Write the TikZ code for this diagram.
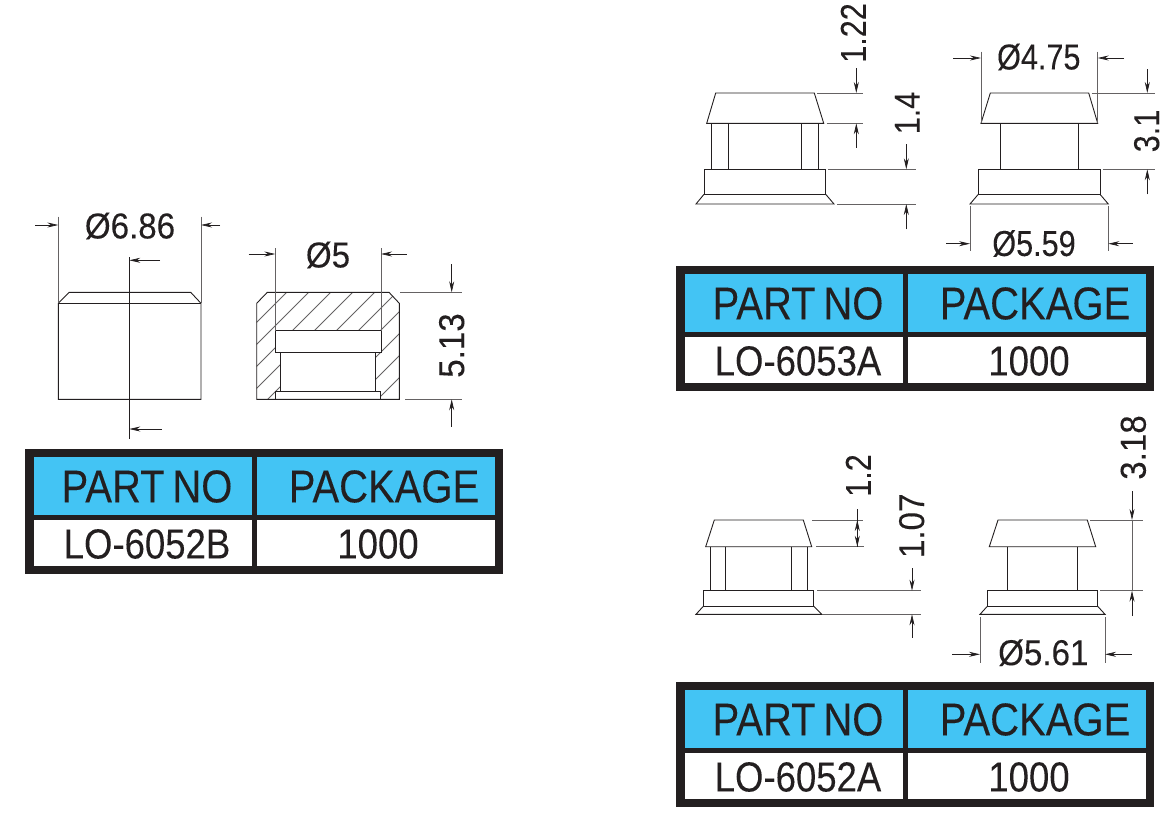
\documentclass[tikz,border=0pt]{standalone}
\usepackage{fontspec}
\setmainfont{Liberation Sans}
\newfontfamily\condfont[FakeStretch=0.87, FakeBold=0.1, WordSpace=0.7]{Liberation Sans}
\newfontfamily\dimfont[FakeStretch=0.92, FakeBold=0.1]{Liberation Sans}
\newfontfamily\dimnarrow[FakeStretch=0.85, FakeBold=0.1]{Liberation Sans}
\usetikzlibrary{arrows.meta}
\definecolor{inkblack}{HTML}{231F20}
\definecolor{headblue}{HTML}{43C4F4}
\tikzset{
  outline/.style={draw=inkblack, line width=0.9pt},
  extline/.style={draw=inkblack!70, line width=0.9pt},
  dimarrow/.style={draw=inkblack, line width=0.7pt, -{Stealth[length=11pt,width=5pt]}},
  dimtext/.style={inner sep=0pt, text=inkblack, font=\dimfont\fontsize{36}{36}\selectfont},
  dimtight/.style={inner sep=0pt, text=inkblack, font=\dimnarrow\fontsize{36}{36}\selectfont},
  headtext/.style={inner sep=0pt, text=inkblack, font=\condfont\fontsize{46}{46}\selectfont},
  celltext/.style={inner sep=0pt, text=inkblack, font=\condfont\fontsize{42}{42}\selectfont},
}
\begin{document}
\begin{tikzpicture}[x=1pt, y=-1pt]
  \useasboundingbox (0,0) rectangle (1166,817);

  % tables
  \foreach \ox/\oy/\tname/\partname in {25/449/tabb/LO-6052B, 676/266/taba/LO-6053A, 676/682/tabc/LO-6052A} {
    \begin{scope}[shift={(\ox,\oy)}]
      \fill[inkblack] (0,0) rectangle (478,125);
      \fill[headblue] (9,8) rectangle (227,66);
      \fill[headblue] (232,8) rectangle (470,66);
      \fill[white] (9,71) rectangle (227,117);
      \fill[white] (232,71) rectangle (470,117);
      \node[headtext] (\tname-parthead) at (122,37.5) {PART NO};
      \node[headtext] (\tname-packhead) at (359,37.5) {PACKAGE};
      \node[celltext] (\tname-part) at (122,95) {\partname};
      \node[celltext] (\tname-pack) at (353,95) {1000};
    \end{scope}
  }

  % LO-6052B side view
  \draw[outline] (58.3,303.3) -- (69.3,292.3) -- (190.7,292.3) -- (201,303.3) -- (201,399.3) -- (58.3,399.3) -- cycle;
  \draw[outline] (58.3,303.3) -- (201,303.3);
  \draw[outline] (129.3,257.3) -- (129.3,439);
  \draw[extline] (58.3,216.7) -- (58.3,303.3);
  \draw[extline] (201,216.7) -- (201,303.3);
  \draw[dimarrow] (35,225) -- (58.3,225);
  \draw[dimarrow] (220,225) -- (201,225);
  \draw[dimarrow] (160,260.3) -- (129.3,260.3);
  \draw[dimarrow] (161.7,429) -- (129.3,429);
  \node[dimtext] (dimsixeight) at (130,226) {Ø6.86};

  % LO-6052B section
  \begin{scope}[even odd rule]
    \clip (256.7,303.3) -- (267.3,292.3) -- (389,292.3) -- (399.3,303.3) -- (399.3,399.3) -- (256.7,399.3) -- cycle
      (275.3,330.7) -- (381,330.7) -- (381,352) -- (375.3,352) -- (375.3,391.3) -- (380.3,391.3) -- (380.3,399.3) -- (275.3,399.3) -- (275.3,391.3) -- (280.7,391.3) -- (280.7,352) -- (275.3,352) -- cycle;
    \foreach \k in {-1,...,10}
      \draw[extline] ({286.7+22*\k},292.3) -- ({286.7+22*\k-108},400.3);
  \end{scope}
  \draw[outline] (256.7,303.3) -- (267.3,292.3) -- (389,292.3) -- (399.3,303.3) -- (399.3,399.3) -- (256.7,399.3) -- cycle;
  \draw[outline] (275.3,330.7) rectangle (381,352);
  \draw[outline] (280.7,352) rectangle (375.3,391.3);
  \draw[outline] (275.3,391.3) rectangle (380.3,399.3);
  \draw[extline] (275.3,248.3) -- (275.3,330.7);
  \draw[extline] (381,248.3) -- (381,330.7);
  \draw[dimarrow] (248.7,254) -- (275.3,254);
  \draw[dimarrow] (406.7,254) -- (381,254);
  \node[dimtext] (dimfive) at (328,255) {Ø5};
  \draw[extline] (400,292.3) -- (461.7,292.3);
  \draw[extline] (405,399.3) -- (461.7,399.3);
  \draw[dimarrow] (451.7,264) -- (451.7,292.3);
  \draw[dimarrow] (451.7,426.7) -- (451.7,399.3);
  \node[dimtext, rotate=90] (dimheight) at (451.7,345.5) {5.13};

  % LO-6053A left view
  \draw[outline] (706.7,123.3) -- (715.7,93) -- (814.3,93) -- (823.7,123.3) -- cycle;
  \draw[outline] (711.3,123.3) -- (711.3,169.3);
  \draw[outline] (728.7,123.3) -- (728.7,169.3);
  \draw[outline] (801,123.3) -- (801,169.3);
  \draw[outline] (818.3,123.3) -- (818.3,169.3);
  \draw[outline] (704,169.3) rectangle (825.7,194.3);
  \draw[outline] (704,194.3) -- (696,204) -- (834,204) -- (825.7,194.3);
  \draw[extline] (817.3,93) -- (862.7,93);
  \draw[extline] (826.7,123.3) -- (862.7,123.3);
  \draw[dimarrow] (856.3,68.3) -- (856.3,93);
  \draw[dimarrow] (856.3,147.7) -- (856.3,123.3);
  \node[dimtight, rotate=90] (dimcap) at (853.3,33) {1.22};
  \draw[extline] (828.3,169.3) -- (916,169.3);
  \draw[extline] (837.3,204) -- (916,204);
  \draw[dimarrow] (906.3,144) -- (906.3,169.3);
  \draw[dimarrow] (906.3,229.3) -- (906.3,204);
  \node[dimtight, rotate=90] (dimbase) at (907.3,113) {1.4};

  % LO-6053A right view
  \draw[outline] (981,123.3) -- (990.3,93) -- (1088.7,93) -- (1097.7,123.3) -- cycle;
  \draw[outline] (1000.3,123.3) -- (1000.3,169.3);
  \draw[outline] (1078.3,123.3) -- (1078.3,169.3);
  \draw[outline] (978.3,169.3) rectangle (1100,194.3);
  \draw[outline] (978.3,194.3) -- (970,204) -- (1108.3,204) -- (1100,194.3);
  \draw[extline] (981,51.7) -- (981,123.3);
  \draw[extline] (1097.7,51.7) -- (1097.7,123.3);
  \draw[dimarrow] (953.3,58) -- (981,58);
  \draw[dimarrow] (1124,58) -- (1097.7,58);
  \node[dimtight] (dimtop) at (1038.8,57) {Ø4.75};
  \draw[extline] (970,205.7) -- (970,250.7);
  \draw[extline] (1108.3,205.7) -- (1108.3,250.7);
  \draw[dimarrow] (946,243.7) -- (970,243.7);
  \draw[dimarrow] (1132.7,243.7) -- (1108.3,243.7);
  \node[dimtight] (dimflange) at (1034,243.5) {Ø5.59};
  \draw[extline] (1091.7,93) -- (1155,93);
  \draw[extline] (1102.7,169.3) -- (1155,169.3);
  \draw[dimarrow] (1147.3,69.3) -- (1147.3,93);
  \draw[dimarrow] (1147.3,194.3) -- (1147.3,169.3);
  \node[dimtight, rotate=90] (dimstem) at (1146.7,131) {3.1};

  % LO-6052A left view
  \draw[outline] (705.7,546.7) -- (714.3,520) -- (803.3,520) -- (811.7,546.7) -- cycle;
  \draw[outline] (710.3,546.7) -- (710.3,590.7);
  \draw[outline] (725.7,546.7) -- (725.7,590.7);
  \draw[outline] (791.3,546.7) -- (791.3,590.7);
  \draw[outline] (807,546.7) -- (807,590.7);
  \draw[outline] (703.3,590.7) rectangle (813.7,606.3);
  \draw[outline] (703.3,606.3) -- (696,614.3) -- (821.7,614.3) -- (813.7,606.3);
  \draw[extline] (812.3,520) -- (862.7,520);
  \draw[extline] (816,546.7) -- (864,546.7);
  \draw[dimarrow] (857.3,509) -- (857.3,546.7);
  \draw[dimarrow] (857.3,546.7) -- (857.3,520);
  \node[dimtight, rotate=90] (dimcapa) at (858.3,475.5) {1.2};
  \draw[extline] (817.3,590.7) -- (921,590.7);
  \draw[extline] (823.3,614.3) -- (921,614.3);
  \draw[dimarrow] (912,568.3) -- (912,590.7);
  \draw[dimarrow] (912,637.7) -- (912,614.3);
  \node[dimtext, rotate=90] (dimbasea) at (911.7,525.8) {1.07};

  % LO-6052A right view
  \draw[outline] (989.3,546.7) -- (998,520) -- (1087.3,520) -- (1095.7,546.7) -- cycle;
  \draw[outline] (1007,546.7) -- (1007,590.7);
  \draw[outline] (1077.7,546.7) -- (1077.7,590.7);
  \draw[outline] (987.3,590.7) rectangle (1097.7,606.3);
  \draw[outline] (987.3,606.3) -- (980,614.3) -- (1105,614.3) -- (1097.7,606.3);
  \draw[extline] (980,617.3) -- (980,663.3);
  \draw[extline] (1105,617.3) -- (1105,663.3);
  \draw[dimarrow] (952,654.3) -- (980,654.3);
  \draw[dimarrow] (1131.7,654.3) -- (1105,654.3);
  \node[dimtext] (dimflangea) at (1043.3,652.7) {Ø5.61};
  \draw[extline] (1090,520) -- (1142.7,520);
  \draw[extline] (1100,590.7) -- (1142.7,590.7);
  \draw[extline] (1132,520) -- (1132,590.7);
  \draw[dimarrow] (1132,491) -- (1132,520);
  \draw[dimarrow] (1132,616) -- (1132,590.7);
  \node[dimtext, rotate=90] (dimstema) at (1133.3,447.5) {3.18};
\end{tikzpicture}
\end{document}
